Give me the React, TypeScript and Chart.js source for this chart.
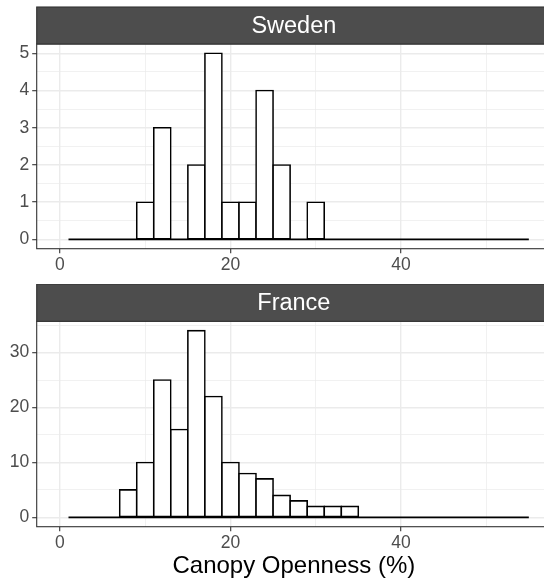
import React, { useEffect, useRef } from "react";
import { Chart, registerables } from "chart.js";

Chart.register(...registerables);

// Histogram bins (bin width 2, centres)
const binCenters = [2, 4, 6, 8, 10, 12, 14, 16, 18, 20, 22, 24, 26, 28, 30, 32, 34, 36, 38, 40, 42, 44, 46, 48, 50, 52, 54];
const swedenCounts = [0, 0, 0, 0, 1, 3, 0, 2, 5, 1, 1, 4, 2, 0, 1, 0, 0, 0, 0, 0, 0, 0, 0, 0, 0, 0, 0];
const franceCounts = [0, 0, 0, 5, 10, 25, 16, 34, 22, 10, 8, 7, 4, 3, 2, 2, 2, 0, 0, 0, 0, 0, 0, 0, 0, 0, 0];
// extent of the histogram outline (first and last bin edges)
const histEdges = [1, 55];

const xTicks = [0, 10, 20, 30, 40, 50];
const swedenYTicks = [0, 0.5, 1, 1.5, 2, 2.5, 3, 3.5, 4, 4.5, 5];
const franceYTicks = [0, 5, 10, 15, 20, 25, 30, 35];

const FONT = "'Liberation Sans', Arial, Helvetica, sans-serif";
const CANVAS_W = 560;

type PanelSpec = {
  label: string;
  counts: number[];
  yTicks: number[];
  yMajorStep: number;
  yMin: number;
  yMax: number;
  top: number;
  height: number;
  padTop: number;
  xAxisHeight: number;
  showTitle: boolean;
};

function panelDecor(label: string) {
  return {
    id: "panelDecor",
    afterDraw(chart: any) {
      const { ctx, chartArea: a } = chart;
      const stripH = 37;
      ctx.save();
      ctx.strokeStyle = "#333333";
      ctx.lineWidth = 1.1;
      ctx.strokeRect(a.left, a.top, a.right - a.left, a.bottom - a.top);
      ctx.fillStyle = "#4D4D4D";
      ctx.fillRect(a.left, a.top - stripH, a.right - a.left, stripH);
      ctx.strokeRect(a.left, a.top - stripH, a.right - a.left, stripH);
      ctx.fillStyle = "#FFFFFF";
      ctx.font = `23.5px ${FONT}`;
      ctx.textAlign = "center";
      ctx.textBaseline = "middle";
      ctx.fillText(label, (a.left + a.right) / 2, a.top - stripH / 2 + 1);
      ctx.restore();
    },
  };
}

function Panel({ spec }: { spec: PanelSpec }) {
  const ref = useRef<HTMLCanvasElement | null>(null);
  useEffect(() => {
    if (!ref.current) return;
    const isMajorY = (v: number) => Math.abs(v / spec.yMajorStep - Math.round(v / spec.yMajorStep)) < 1e-9;
    const isMajorX = (v: number) => v % 20 === 0;
    const chart = new Chart(ref.current, {
      type: "bar",
      data: {
        datasets: [
          {
            type: "line",
            data: histEdges.map((x) => ({ x, y: 0 })),
            borderColor: "#000000",
            borderWidth: 1.6,
            pointRadius: 0,
            fill: false,
          } as any,
          {
            type: "bar",
            data: binCenters.map((x, i) => ({ x, y: spec.counts[i] })),
            backgroundColor: "#FFFFFF",
            borderColor: "#000000",
            borderWidth: 1.6,
            borderSkipped: false,
            inflateAmount: 0.8,
            barPercentage: 1,
            categoryPercentage: 1,
          } as any,
        ],
      },
      options: {
        animation: false,
        responsive: false,
        maintainAspectRatio: false,
        layout: { padding: { top: spec.padTop, right: CANVAS_W - 551, left: 0, bottom: 0 } },
        plugins: { legend: { display: false }, tooltip: { enabled: false } },
        scales: {
          x: {
            type: "linear",
            min: -2.73,
            max: 57.6,
            offset: false,
            afterBuildTicks: (s: any) => {
              s.ticks = xTicks.map((v) => ({ value: v }));
            },
            afterFit: (s: any) => {
              s.height = spec.xAxisHeight;
            },
            border: { display: false },
            grid: {
              offset: false,
              color: "#EBEBEB",
              lineWidth: (c: any) => (c.tick && isMajorX(c.tick.value) ? 1.4 : 0.7),
              tickColor: (c: any) => (c.tick && isMajorX(c.tick.value) ? "#333333" : "rgba(0,0,0,0)"),
              tickLength: 4.5,
              tickWidth: 1.1,
            },
            ticks: {
              autoSkip: false,
              maxRotation: 0,
              padding: 1.5,
              color: "#4D4D4D",
              font: { family: FONT, size: 17.5 },
              callback: (v: any) => (isMajorX(Number(v)) ? String(v) : ""),
            },
            title: {
              display: spec.showTitle,
              text: "Canopy Openness (%)",
              color: "#000000",
              font: { family: FONT, size: 24 },
              padding: { top: 0, bottom: 2.6 },
            },
          },
          y: {
            type: "linear",
            min: spec.yMin,
            max: spec.yMax,
            afterBuildTicks: (s: any) => {
              s.ticks = spec.yTicks.map((v) => ({ value: v }));
            },
            afterFit: (s: any) => {
              s.width = 36.7;
            },
            border: { display: false },
            grid: {
              color: "#EBEBEB",
              lineWidth: (c: any) => (c.tick && isMajorY(c.tick.value) ? 1.4 : 0.7),
              tickColor: (c: any) => (c.tick && isMajorY(c.tick.value) ? "#333333" : "rgba(0,0,0,0)"),
              tickLength: 4.5,
              tickWidth: 1.1,
            },
            ticks: {
              autoSkip: false,
              padding: 3,
              color: "#4D4D4D",
              font: { family: FONT, size: 17.5 },
              callback: (v: any) => (isMajorY(Number(v)) ? String(v) : ""),
            },
          },
        },
      },
      plugins: [panelDecor(spec.label)],
    } as any);
    return () => chart.destroy();
  }, [spec]);
  return (
    <canvas
      ref={ref}
      width={CANVAS_W}
      height={spec.height}
      style={{ position: "absolute", left: 0, top: spec.top, width: CANVAS_W, height: spec.height, display: "block" }}
    />
  );
}

const sweden: PanelSpec = {
  label: "Sweden",
  counts: swedenCounts,
  yTicks: swedenYTicks,
  yMajorStep: 1,
  yMin: -0.25,
  yMax: 5.25,
  top: 0,
  height: 284,
  padTop: 44,
  xAxisHeight: 284 - 248.7,
  showTitle: false,
};

const france: PanelSpec = {
  label: "France",
  counts: franceCounts,
  yTicks: franceYTicks,
  yMajorStep: 10,
  yMin: -1.7,
  yMax: 35.7,
  top: 284,
  height: 299,
  padTop: 37.3,
  xAxisHeight: 299 - 242.7,
  showTitle: true,
};

export default function App() {
  return (
    <div
      style={{
        position: "absolute",
        left: 0,
        top: 0,
        width: 544,
        height: 583,
        overflow: "hidden",
        background: "#FFFFFF",
      }}
    >
      <Panel spec={sweden} />
      <Panel spec={france} />
    </div>
  );
}
